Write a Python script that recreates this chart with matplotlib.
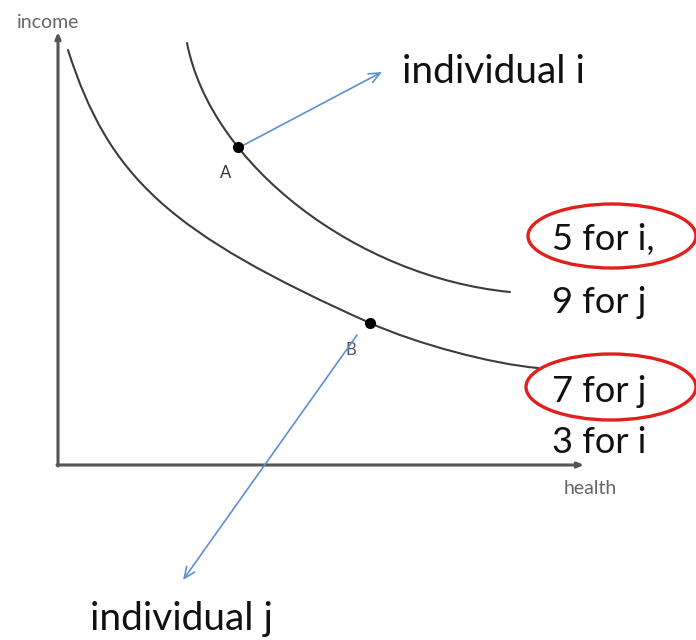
import matplotlib
matplotlib.use("Agg")
import matplotlib.pyplot as plt
from matplotlib.patches import Ellipse, PathPatch
from matplotlib.path import Path

# ---- data (health, income) ----
# indifference curves given as cubic Bezier control points (start, c1, c2, end, c1, c2, end ...)
upper_health = [129, 153, 299, 452]
upper_income = [422, 300, 188, 173]

lower_health = [10, 51, 111, 312, 359, 434, 480]
lower_income = [415, 287, 232, 142, 121, 101, 97]

point_names = ["A", "B"]
point_health = [180, 312]
point_income = [318, 142]

right_labels = ["5 for i,", "9 for j", "7 for j", "3 for i"]
right_label_income = [215, 152, 63, 12]

x_label = "health"
y_label = "income"
arrow_labels = ["individual i", "individual j"]

# ---- figure ----
fig = plt.figure(figsize=(6.96, 6.40), dpi=100)
ax = fig.add_axes([0, 0, 1, 1])
ax.set_xlim(-58, 638)
ax.set_ylim(-175, 465)
ax.axis("off")

axis_col = "#555555"
curve_col = "#3c3c3c"
blue = "#5f8fd0"
red = "#e0201c"
font = ["Lato", "DejaVu Sans"]

# axes with arrow heads
ax.annotate("", xy=(0, 433), xytext=(0, -1),
            arrowprops=dict(arrowstyle="-|>,head_length=0.35,head_width=0.15",
                            color=axis_col, lw=2.2, shrinkA=0, shrinkB=0))
ax.annotate("", xy=(526, 0), xytext=(-1, 0),
            arrowprops=dict(arrowstyle="-|>,head_length=0.35,head_width=0.15",
                            color=axis_col, lw=2.2, shrinkA=0, shrinkB=0))
ax.text(-10, 443, y_label, fontsize=14, color="#666666", ha="center", va="center", family=font)
ax.text(532, -23, x_label, fontsize=14, color="#666666", ha="center", va="center", family=font)


def bezier_patch(xs, ys):
    verts = list(zip(xs, ys))
    codes = [Path.MOVETO] + [Path.CURVE4] * (len(verts) - 1)
    return PathPatch(Path(verts, codes), fill=False, ec=curve_col, lw=1.5, capstyle="round")


# indifference curves
ax.add_patch(bezier_patch(upper_health, upper_income))
ax.add_patch(bezier_patch(lower_health, lower_income))

# points
ax.plot(point_health, point_income, "o", color="black", ms=7, zorder=5)
ax.text(point_health[0] - 12, point_income[0] - 26, point_names[0], fontsize=12,
        color="#333333", ha="center", va="center", family=font)
ax.text(point_health[1] - 19, point_income[1] - 27, point_names[1], fontsize=12,
        color="#555555", ha="center", va="center", family=font)

# blue arrows
ax.annotate("", xy=(324, 393), xytext=(point_health[0] + 2, point_income[0]),
            arrowprops=dict(arrowstyle="->,head_length=0.8,head_width=0.35",
                            color=blue, lw=1.2, shrinkA=0, shrinkB=0))
ax.annotate("", xy=(125, -115), xytext=(299, 130),
            arrowprops=dict(arrowstyle="->,head_length=0.8,head_width=0.35",
                            color=blue, lw=1.2, shrinkA=0, shrinkB=0))

ax.text(344, 382, arrow_labels[0], fontsize=28, color="#111111", ha="left",
        va="baseline", family=font)
ax.text(32, -165, arrow_labels[1], fontsize=28, color="#111111", ha="left",
        va="baseline", family=font)

# right-side labels
for lab, yv in zip(right_labels, right_label_income):
    ax.text(494, yv, lab, fontsize=26, color="#111111", ha="left",
            va="baseline", family=font)

# red ellipses
ax.add_patch(Ellipse((554, 229), 168, 64, fill=False, ec=red, lw=2.4))
ax.add_patch(Ellipse((553, 78), 170, 66, fill=False, ec=red, lw=2.4))

fig.savefig("out.png", dpi=100, facecolor="white")
